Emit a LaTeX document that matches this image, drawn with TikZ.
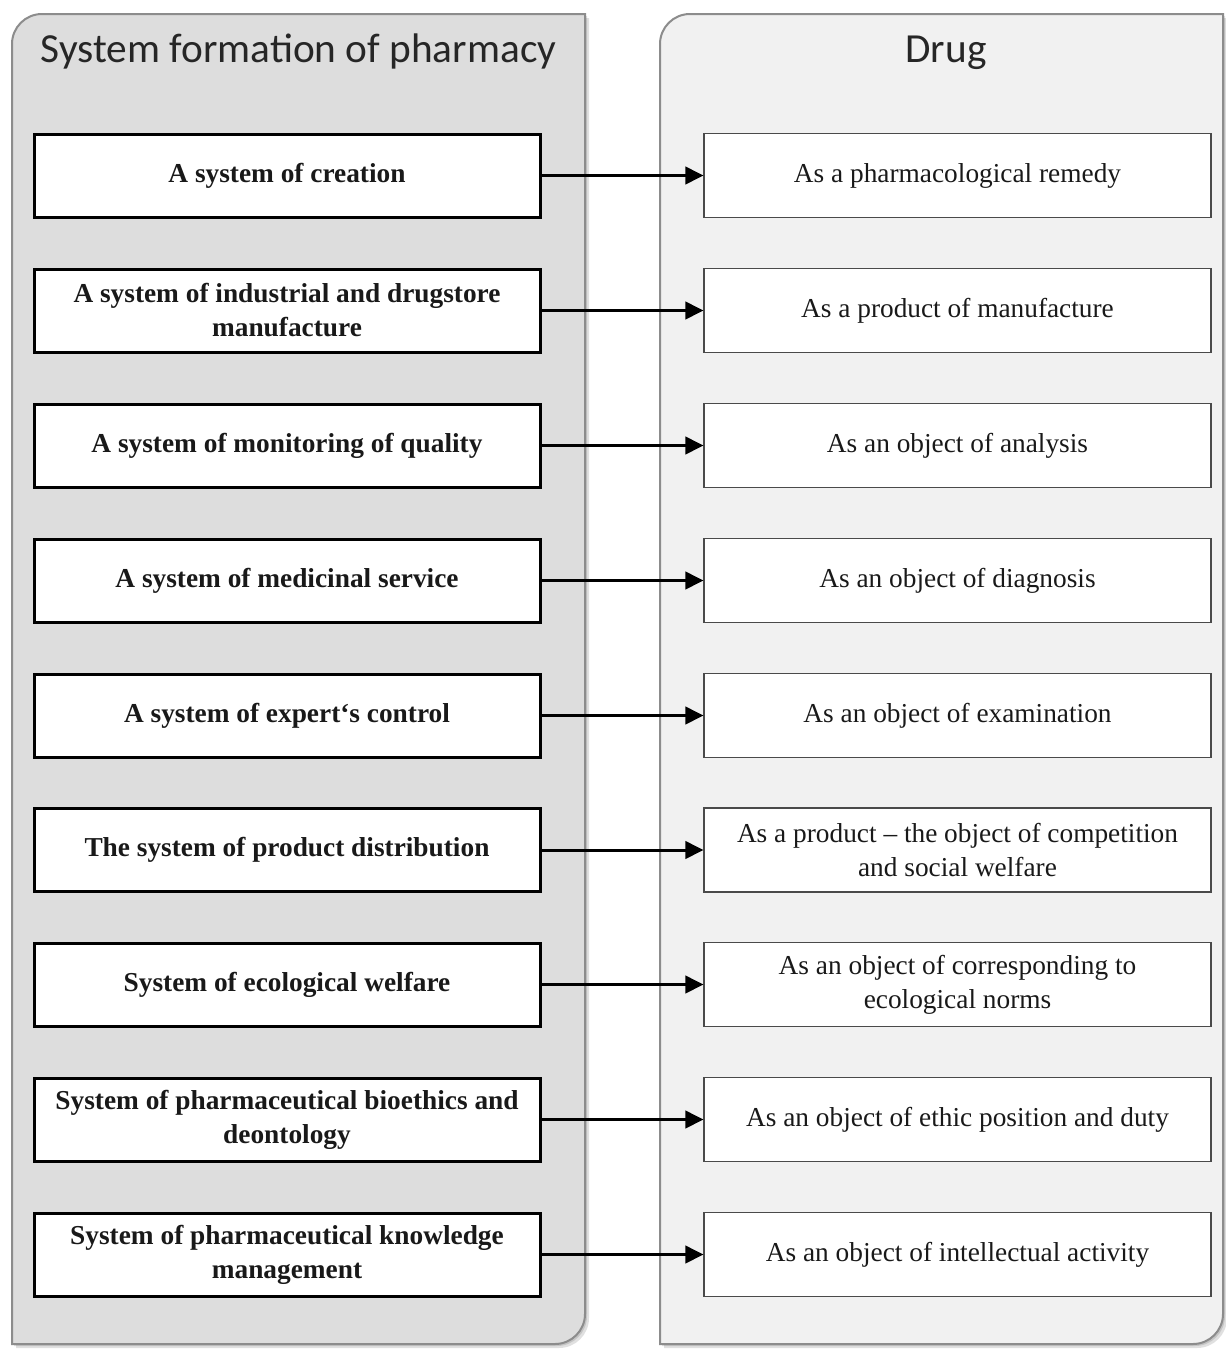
\documentclass[tikz,border=0pt]{standalone}
\usepackage{fontspec}
\setmainfont{Liberation Serif}
\newfontfamily\titlefont{Carlito}
\usetikzlibrary{arrows.meta}
\definecolor{leftfill}{HTML}{DDDDDD}
\definecolor{rightfill}{HTML}{F1F1F1}
\definecolor{panelline}{HTML}{8C8C8C}
\definecolor{rline}{HTML}{4A4A4A}
\newcommand\pnlpath[4]{(#1,#4) -- (#1,#2+30) arc[start angle=180,end angle=270,radius=30] -- (#3,#2) -- (#3,#4-30) arc[start angle=0,end angle=90,radius=30] -- cycle}
\tikzset{
  titletext/.style={font=\titlefont\fontsize{31pt}{36pt}\selectfont, inner sep=0pt, text=black!85},
  lbox/.style={draw=black, line width=2.25pt, fill=white, minimum width=379.5pt, minimum height=62.25pt,
    align=center, inner sep=0pt, font=\rmfamily\bfseries\fontsize{20.5pt}{25.5pt}\selectfont, text=black!90},
  rbox/.style={draw=rline, line width=1.1pt, fill=white, minimum width=380pt, minimum height=63pt,
    align=center, inner sep=0pt, font=\rmfamily\fontsize{20.5pt}{25.5pt}\selectfont, text=black!90},
  conn/.style={line width=2.25pt, -{Triangle[length=13.5pt,width=13pt]}},
  panelstyle/.style={fill=#1, draw=panelline, line width=1.5pt},
  shadowstyle/.style={fill=black, opacity=0.12}
}
\begin{document}
\begin{tikzpicture}[x=0.75pt,y=-0.75pt]
\useasboundingbox (0,0) rectangle (1226,1349);
\fill[white] (0,0) rectangle (1226,1349);
% panel shadows
\begin{scope}[shift={(4,4)}]
\fill[shadowstyle] \pnlpath{12}{14}{585}{1344};
\fill[shadowstyle] \pnlpath{660}{14}{1223}{1344};
\end{scope}
\begin{scope}[shift={(2,2)}]
\fill[shadowstyle] \pnlpath{12}{14}{585}{1344};
\fill[shadowstyle] \pnlpath{660}{14}{1223}{1344};
\end{scope}
% panels
\path[panelstyle=leftfill] \pnlpath{12}{14}{585}{1344};
\path[panelstyle=rightfill] \pnlpath{660}{14}{1223}{1344};
% titles
\node[titletext, anchor=base] (t1) at (298.5,62) {System formation of pharmacy};
\node[titletext, anchor=base] (t2) at (946,62) {Drug};
% left boxes
\node[lbox] (l1) at (287,175.5) {A system of creation};
\node[lbox] (l2) at (287,310.5) {A system of industrial and drugstore\\manufacture};
\node[lbox] (l3) at (287,445.5) {A system of monitoring of quality};
\node[lbox] (l4) at (287,580.5) {A system of medicinal service};
\node[lbox] (l5) at (287,715.5) {A system of expert`s control};
\node[lbox] (l6) at (287,850) {The system of product distribution};
\node[lbox] (l7) at (287,984.5) {System of ecological welfare};
\node[lbox] (l8) at (287,1119.5) {System of pharmaceutical bioethics and\\deontology};
\node[lbox] (l9) at (287,1254.5) {System of pharmaceutical knowledge\\management};
% right boxes
\node[rbox] (r1) at (957.5,175.5) {As a pharmacological remedy};
\node[rbox] (r2) at (957.5,310.5) {As a product of manufacture};
\node[rbox] (r3) at (957.5,445.5) {As an object of analysis};
\node[rbox] (r4) at (957.5,580.5) {As an object of diagnosis};
\node[rbox] (r5) at (957.5,715.5) {As an object of examination};
\node[rbox] (r6) at (957.5,850) {As a product – the object of competition\\and social welfare};
\node[rbox] (r7) at (957.5,984.5) {As an object of corresponding to\\ecological norms};
\node[rbox] (r8) at (957.5,1119.5) {As an object of ethic position and duty};
\node[rbox] (r9) at (957.5,1254.5) {As an object of intellectual activity};
% connectors
\foreach \i in {1,...,9} {\draw[conn] (l\i) -- (r\i);}
\end{tikzpicture}
\end{document}
